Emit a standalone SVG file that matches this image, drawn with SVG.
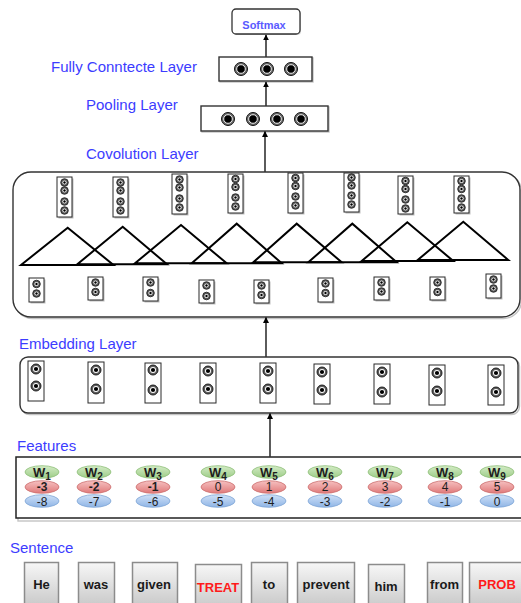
<svg xmlns="http://www.w3.org/2000/svg" xmlns:xlink="http://www.w3.org/1999/xlink" width="521" height="603" viewBox="0 0 521 603">
  <style>
    .lbl { font-family: "Liberation Sans", Arial, sans-serif; font-size: 15px; fill: #3c3cff; }
    .box { fill: #ffffff; stroke: #333333; stroke-width: 1.4; }
    .shadow { fill: none; stroke: #c4c4c4; stroke-width: 1.4; }
    .col { fill: #ffffff; stroke: #2a2a2a; stroke-width: 1; }
    .colsh { fill: #bdbdbd; }
    .tri { fill: none; stroke: #000000; stroke-width: 2; stroke-linejoin: miter; }
    .conn { stroke: #333333; stroke-width: 1.6; fill: none; marker-end: url(#arrow); }
    .word { stroke: #8c8c8c; stroke-width: 1.5; fill: url(#wordGrad); }
    .wtxt { font-family: "Liberation Sans", Arial, sans-serif; font-size: 13px; font-weight: bold; fill: #1a1a1a; text-anchor: middle; }
    .wred { fill: #ff1a1a; }
    .ftxt { font-family: "Liberation Sans", Arial, sans-serif; font-size: 12px; fill: #1e1e1e; text-anchor: middle; }
    .fw { font-weight: bold; font-size: 13px; }
    .sub { font-size: 10px; }
    .green { fill: url(#gGrad); stroke: #8fbf7a; stroke-width: 0.8; }
    .red { fill: url(#rGrad); stroke: #cc6f6f; stroke-width: 0.8; }
    .blue { fill: url(#bGrad); stroke: #7fa6d6; stroke-width: 0.8; }
  </style>
  <defs>
    <marker id="arrow" viewBox="0 0 10 10" refX="9" refY="5" markerWidth="6" markerHeight="6" markerUnits="userSpaceOnUse" orient="auto">
      <path d="M0,0 L10,5 L0,10 Z" fill="#000000"/>
    </marker>
    <linearGradient id="wordGrad" x1="0" y1="0" x2="0" y2="1">
      <stop offset="0" stop-color="#f7f7f7"/>
      <stop offset="1" stop-color="#c2c2c2"/>
    </linearGradient>
    <linearGradient id="gGrad" x1="0" y1="0" x2="0" y2="1">
      <stop offset="0" stop-color="#d4ecc6"/>
      <stop offset="1" stop-color="#9ccc86"/>
    </linearGradient>
    <linearGradient id="rGrad" x1="0" y1="0" x2="0" y2="1">
      <stop offset="0" stop-color="#f6c1c1"/>
      <stop offset="1" stop-color="#e07a7a"/>
    </linearGradient>
    <linearGradient id="bGrad" x1="0" y1="0" x2="0" y2="1">
      <stop offset="0" stop-color="#cfe1f7"/>
      <stop offset="1" stop-color="#8fb5e6"/>
    </linearGradient>
    <!-- neuron symbols in three sizes -->
    <g id="dotBig">
      <circle r="6.5" fill="#6e6e6e" stroke="#111" stroke-width="1"/>
      <circle r="4.3" fill="#000" stroke="#ffffff" stroke-width="0.9"/>
    </g>
    <g id="dotMd">
      <circle r="5" fill="#5e5e5e" stroke="#111" stroke-width="0.9"/>
      <circle r="3" fill="#ffffff"/>
      <circle r="2.1" fill="#000"/>
    </g>
    <g id="dotSm">
      <circle r="3.8" fill="#555555" stroke="#1a1a1a" stroke-width="0.8"/>
      <circle r="2.1" fill="#ffffff"/>
      <circle r="1.2" fill="#000"/>
    </g>
  </defs>

  <rect width="521" height="603" fill="#ffffff"/>

  <!-- layer captions -->
  <g id="labels">
    <text class="lbl" x="51" y="72">Fully Conntecte Layer</text>
    <text class="lbl" x="86" y="110">Pooling Layer</text>
    <text class="lbl" x="86" y="159">Covolution Layer</text>
    <text class="lbl" x="19" y="349">Embedding Layer</text>
    <text class="lbl" x="17" y="451">Features</text>
    <text class="lbl" x="10" y="553">Sentence</text>
  </g>

  <!-- output -->
  <g id="softmax">
    <rect x="233" y="10" width="68" height="25" rx="4" fill="#d0d0d0"/>
    <rect x="232" y="9" width="68" height="25" rx="4" fill="#ffffff" stroke="#333" stroke-width="1.3"/>
    <text x="264" y="29" font-family="Liberation Sans, Arial, sans-serif" font-size="11" font-weight="bold" fill="#5a5aff" text-anchor="middle">Softmax</text>
  </g>

  <g id="fully-connected">
    <rect x="220" y="58" width="93" height="24" fill="none" stroke="#c4c4c4" stroke-width="1.4"/>
    <rect x="219" y="57" width="93" height="24" class="box"/>
    <use xlink:href="#dotBig" x="241" y="69"/>
    <use xlink:href="#dotBig" x="267" y="69"/>
    <use xlink:href="#dotBig" x="291" y="69"/>
  </g>

  <g id="pooling">
    <rect x="202" y="107" width="127" height="25" fill="none" stroke="#c4c4c4" stroke-width="1.4"/>
    <rect x="201" y="106" width="127" height="25" class="box"/>
    <use xlink:href="#dotBig" x="228" y="119"/>
    <use xlink:href="#dotBig" x="253" y="119"/>
    <use xlink:href="#dotBig" x="277" y="119"/>
    <use xlink:href="#dotBig" x="301" y="119"/>
  </g>

  <!-- convolution block: feature maps, filter windows, inputs -->
  <g id="convolution">
    <rect x="14.5" y="173.5" width="507" height="145" rx="18" class="shadow"/>
    <rect x="13" y="172" width="507" height="145" rx="18" class="box"/>

    <g id="conv-maps">
      <rect class="colsh" x="58.5" y="178.5" width="15" height="40"/>
      <rect class="col" x="57" y="177" width="15" height="40"/>
      <use xlink:href="#dotSm" x="64.5" y="182.5"/><use xlink:href="#dotSm" x="64.5" y="190.5"/><use xlink:href="#dotSm" x="64.5" y="201.5"/><use xlink:href="#dotSm" x="64.5" y="210.5"/>

      <rect class="colsh" x="114.5" y="178.5" width="15" height="40"/>
      <rect class="col" x="113" y="177" width="15" height="40"/>
      <use xlink:href="#dotSm" x="120.5" y="182.5"/><use xlink:href="#dotSm" x="120.5" y="190.5"/><use xlink:href="#dotSm" x="120.5" y="201.5"/><use xlink:href="#dotSm" x="120.5" y="210.5"/>

      <rect class="colsh" x="173.5" y="175.5" width="15" height="40"/>
      <rect class="col" x="172" y="174" width="15" height="40"/>
      <use xlink:href="#dotSm" x="179.5" y="179.5"/><use xlink:href="#dotSm" x="179.5" y="187.5"/><use xlink:href="#dotSm" x="179.5" y="198.5"/><use xlink:href="#dotSm" x="179.5" y="207.5"/>

      <rect class="colsh" x="229.5" y="175.5" width="15" height="39"/>
      <rect class="col" x="228" y="174" width="15" height="39"/>
      <use xlink:href="#dotSm" x="235.5" y="179"/><use xlink:href="#dotSm" x="235.5" y="187"/><use xlink:href="#dotSm" x="235.5" y="197.5"/><use xlink:href="#dotSm" x="235.5" y="206.5"/>

      <rect class="colsh" x="289.5" y="174.5" width="15" height="40"/>
      <rect class="col" x="288" y="173" width="15" height="40"/>
      <use xlink:href="#dotSm" x="295.5" y="178"/><use xlink:href="#dotSm" x="295.5" y="186"/><use xlink:href="#dotSm" x="295.5" y="196.5"/><use xlink:href="#dotSm" x="295.5" y="205.5"/>

      <rect class="colsh" x="345.5" y="174.5" width="15" height="39"/>
      <rect class="col" x="344" y="173" width="15" height="39"/>
      <use xlink:href="#dotSm" x="351.5" y="177.5"/><use xlink:href="#dotSm" x="351.5" y="185.5"/><use xlink:href="#dotSm" x="351.5" y="195.5"/><use xlink:href="#dotSm" x="351.5" y="204.5"/>

      <rect class="colsh" x="399.5" y="177.5" width="15" height="38"/>
      <rect class="col" x="398" y="176" width="15" height="38"/>
      <use xlink:href="#dotSm" x="405.5" y="181"/><use xlink:href="#dotSm" x="405.5" y="189"/><use xlink:href="#dotSm" x="405.5" y="199.5"/><use xlink:href="#dotSm" x="405.5" y="208.5"/>

      <rect class="colsh" x="455.5" y="177.5" width="15" height="37"/>
      <rect class="col" x="454" y="176" width="15" height="37"/>
      <use xlink:href="#dotSm" x="461.5" y="181"/><use xlink:href="#dotSm" x="461.5" y="189"/><use xlink:href="#dotSm" x="461.5" y="198.5"/><use xlink:href="#dotSm" x="461.5" y="207.5"/>
    </g>

    <g id="conv-filters">
      <path class="tri" d="M21,265 L67.7,227.7 L113.5,265 Z"/>
      <path class="tri" d="M77.3,264.3 L122.7,226.7 L167,264.3 Z"/>
      <path class="tri" d="M135,263.3 L181,225 L226.7,263.3 Z"/>
      <path class="tri" d="M191.7,263.3 L236.7,223.7 L281.7,263.3 Z"/>
      <path class="tri" d="M253.3,262.3 L296.7,223.7 L341.7,262.3 Z"/>
      <path class="tri" d="M308.3,262.3 L352.3,223.7 L396.7,262.3 Z"/>
      <path class="tri" d="M361.7,261 L407.3,222.3 L453.3,261 Z"/>
      <path class="tri" d="M417.7,260 L463.3,221.7 L508.3,260 Z"/>
    </g>

    <g id="conv-inputs">
      <rect class="colsh" x="30.5" y="279.5" width="15" height="24"/>
      <rect class="col" x="29" y="278" width="15" height="24"/>
      <use xlink:href="#dotSm" x="36.5" y="284"/><use xlink:href="#dotSm" x="36.5" y="293.5"/>

      <rect class="colsh" x="89.5" y="278.5" width="15" height="23"/>
      <rect class="col" x="88" y="277" width="15" height="23"/>
      <use xlink:href="#dotSm" x="95.5" y="282.5"/><use xlink:href="#dotSm" x="95.5" y="292"/>

      <rect class="colsh" x="144.5" y="278.5" width="15" height="24"/>
      <rect class="col" x="143" y="277" width="15" height="24"/>
      <use xlink:href="#dotSm" x="150.5" y="282.5"/><use xlink:href="#dotSm" x="150.5" y="293"/>

      <rect class="colsh" x="200.5" y="281.5" width="15" height="23"/>
      <rect class="col" x="199" y="280" width="15" height="23"/>
      <use xlink:href="#dotSm" x="206.5" y="285.5"/><use xlink:href="#dotSm" x="206.5" y="296"/>

      <rect class="colsh" x="255.5" y="281.5" width="15" height="23"/>
      <rect class="col" x="254" y="280" width="15" height="23"/>
      <use xlink:href="#dotSm" x="261.5" y="285.5"/><use xlink:href="#dotSm" x="261.5" y="295"/>

      <rect class="colsh" x="319.5" y="279.5" width="15" height="24"/>
      <rect class="col" x="318" y="278" width="15" height="24"/>
      <use xlink:href="#dotSm" x="325.5" y="283.5"/><use xlink:href="#dotSm" x="325.5" y="293"/>

      <rect class="colsh" x="375.5" y="278.5" width="15" height="23"/>
      <rect class="col" x="374" y="277" width="15" height="23"/>
      <use xlink:href="#dotSm" x="381.5" y="282.5"/><use xlink:href="#dotSm" x="381.5" y="291.5"/>

      <rect class="colsh" x="431.5" y="278.5" width="15" height="23"/>
      <rect class="col" x="430" y="277" width="15" height="23"/>
      <use xlink:href="#dotSm" x="437.5" y="282.5"/><use xlink:href="#dotSm" x="437.5" y="292"/>

      <rect class="colsh" x="487.5" y="275.5" width="15" height="24"/>
      <rect class="col" x="486" y="274" width="15" height="24"/>
      <use xlink:href="#dotSm" x="493.5" y="279.5"/><use xlink:href="#dotSm" x="493.5" y="288.5"/>
    </g>
  </g>

  <!-- embedding layer -->
  <g id="embedding">
    <rect x="21.5" y="358.5" width="498" height="56" rx="8" class="shadow"/>
    <rect x="20" y="357" width="498" height="56" rx="8" class="box"/>
    <rect class="col" x="28" y="361" width="16" height="40"/><use xlink:href="#dotMd" x="36" y="369"/><use xlink:href="#dotMd" x="36" y="386"/>
    <rect class="col" x="88" y="362" width="16" height="41"/><use xlink:href="#dotMd" x="96" y="370"/><use xlink:href="#dotMd" x="96" y="389"/>
    <rect class="col" x="145" y="363" width="16" height="40"/><use xlink:href="#dotMd" x="153" y="370"/><use xlink:href="#dotMd" x="153" y="390"/>
    <rect class="col" x="200" y="363" width="16" height="40"/><use xlink:href="#dotMd" x="208" y="371"/><use xlink:href="#dotMd" x="208" y="389"/>
    <rect class="col" x="260" y="363" width="16" height="40"/><use xlink:href="#dotMd" x="268" y="371"/><use xlink:href="#dotMd" x="268" y="389"/>
    <rect class="col" x="314" y="364" width="16" height="40"/><use xlink:href="#dotMd" x="322" y="372"/><use xlink:href="#dotMd" x="322" y="390"/>
    <rect class="col" x="374" y="364" width="16" height="40"/><use xlink:href="#dotMd" x="382" y="372"/><use xlink:href="#dotMd" x="382" y="392"/>
    <rect class="col" x="429" y="365" width="16" height="40"/><use xlink:href="#dotMd" x="437" y="373"/><use xlink:href="#dotMd" x="437" y="391"/>
    <rect class="col" x="488" y="365" width="16" height="40"/><use xlink:href="#dotMd" x="496" y="373"/><use xlink:href="#dotMd" x="496" y="392"/>
  </g>

  <!-- per-word features: word id, position relative to TREAT, to PROB -->
  <g id="features">
    <rect x="18" y="459" width="520" height="62" fill="none" stroke="#c4c4c4" stroke-width="1.4"/>
    <rect x="16" y="457" width="520" height="61" fill="#ffffff" stroke="#222" stroke-width="1.5"/>

    <g id="f1">
      <ellipse class="green" cx="42" cy="472" rx="17" ry="6.3"/><ellipse class="red" cx="42" cy="487" rx="17" ry="6.3"/><ellipse class="blue" cx="42" cy="501" rx="17" ry="6.3"/>
      <text class="ftxt fw" x="42" y="477">W<tspan class="sub" dy="2.5">1</tspan></text>
      <text class="ftxt" x="42" y="491" font-weight="bold">-3</text><text class="ftxt" x="42" y="505.5">-8</text>
    </g>
    <g id="f2">
      <ellipse class="green" cx="94" cy="472" rx="17" ry="6.3"/><ellipse class="red" cx="94" cy="487" rx="17" ry="6.3"/><ellipse class="blue" cx="94" cy="501" rx="17" ry="6.3"/>
      <text class="ftxt fw" x="94" y="477">W<tspan class="sub" dy="2.5">2</tspan></text>
      <text class="ftxt" x="94" y="491" font-weight="bold">-2</text><text class="ftxt" x="94" y="505.5">-7</text>
    </g>
    <g id="f3">
      <ellipse class="green" cx="153" cy="472" rx="17" ry="6.3"/><ellipse class="red" cx="153" cy="487" rx="17" ry="6.3"/><ellipse class="blue" cx="153" cy="501" rx="17" ry="6.3"/>
      <text class="ftxt fw" x="153" y="477">W<tspan class="sub" dy="2.5">3</tspan></text>
      <text class="ftxt" x="153" y="491" font-weight="bold">-1</text><text class="ftxt" x="153" y="505.5">-6</text>
    </g>
    <g id="f4">
      <ellipse class="green" cx="218" cy="472" rx="17" ry="6.3"/><ellipse class="red" cx="218" cy="487" rx="17" ry="6.3"/><ellipse class="blue" cx="218" cy="501" rx="17" ry="6.3"/>
      <text class="ftxt fw" x="218" y="477">W<tspan class="sub" dy="2.5">4</tspan></text>
      <text class="ftxt" x="218" y="491">0</text><text class="ftxt" x="218" y="505.5">-5</text>
    </g>
    <g id="f5">
      <ellipse class="green" cx="269" cy="472" rx="17" ry="6.3"/><ellipse class="red" cx="269" cy="487" rx="17" ry="6.3"/><ellipse class="blue" cx="269" cy="501" rx="17" ry="6.3"/>
      <text class="ftxt fw" x="269" y="477">W<tspan class="sub" dy="2.5">5</tspan></text>
      <text class="ftxt" x="269" y="491">1</text><text class="ftxt" x="269" y="505.5">-4</text>
    </g>
    <g id="f6">
      <ellipse class="green" cx="325" cy="472" rx="17" ry="6.3"/><ellipse class="red" cx="325" cy="487" rx="17" ry="6.3"/><ellipse class="blue" cx="325" cy="501" rx="17" ry="6.3"/>
      <text class="ftxt fw" x="325" y="477">W<tspan class="sub" dy="2.5">6</tspan></text>
      <text class="ftxt" x="325" y="491">2</text><text class="ftxt" x="325" y="505.5">-3</text>
    </g>
    <g id="f7">
      <ellipse class="green" cx="385" cy="472" rx="17" ry="6.3"/><ellipse class="red" cx="385" cy="487" rx="17" ry="6.3"/><ellipse class="blue" cx="385" cy="501" rx="17" ry="6.3"/>
      <text class="ftxt fw" x="385" y="477">W<tspan class="sub" dy="2.5">7</tspan></text>
      <text class="ftxt" x="385" y="491">3</text><text class="ftxt" x="385" y="505.5">-2</text>
    </g>
    <g id="f8">
      <ellipse class="green" cx="445" cy="472" rx="17" ry="6.3"/><ellipse class="red" cx="445" cy="487" rx="17" ry="6.3"/><ellipse class="blue" cx="445" cy="501" rx="17" ry="6.3"/>
      <text class="ftxt fw" x="445" y="477">W<tspan class="sub" dy="2.5">8</tspan></text>
      <text class="ftxt" x="445" y="491">4</text><text class="ftxt" x="445" y="505.5">-1</text>
    </g>
    <g id="f9">
      <ellipse class="green" cx="497" cy="472" rx="17" ry="6.3"/><ellipse class="red" cx="497" cy="487" rx="17" ry="6.3"/><ellipse class="blue" cx="497" cy="501" rx="17" ry="6.3"/>
      <text class="ftxt fw" x="497" y="477">W<tspan class="sub" dy="2.5">9</tspan></text>
      <text class="ftxt" x="497" y="491">5</text><text class="ftxt" x="497" y="505.5">0</text>
    </g>
  </g>

  <!-- input sentence tokens -->
  <g id="sentence">
    <g id="tok-he"><rect class="word" x="24.5" y="562.5" width="34" height="50"/><text class="wtxt" x="41.5" y="589">He</text></g>
    <g id="tok-was"><rect class="word" x="78.5" y="562.5" width="36" height="50"/><text class="wtxt" x="96" y="589">was</text></g>
    <g id="tok-given"><rect class="word" x="132.5" y="562.5" width="45" height="50"/><text class="wtxt" x="154" y="589">given</text></g>
    <g id="tok-treat"><rect class="word" x="195.5" y="564.5" width="46" height="50"/><text class="wtxt wred" x="218" y="591.5">TREAT</text></g>
    <g id="tok-to"><rect class="word" x="251.5" y="562.5" width="36" height="50"/><text class="wtxt" x="269" y="589">to</text></g>
    <g id="tok-prevent"><rect class="word" x="297.5" y="562.5" width="57" height="50"/><text class="wtxt" x="326" y="589">prevent</text></g>
    <g id="tok-him"><rect class="word" x="368.5" y="564.5" width="36" height="50"/><text class="wtxt" x="386" y="591">him</text></g>
    <g id="tok-from"><rect class="word" x="427.5" y="562.5" width="35" height="50"/><text class="wtxt" x="444.5" y="589">from</text></g>
    <g id="tok-prob"><rect class="word" x="469.5" y="562.5" width="57" height="50"/><text class="wtxt wred" x="497" y="589">PROB</text></g>
  </g>

  <!-- connectors between layers -->
  <g id="connectors">
    <line class="conn" x1="266" y1="57" x2="266" y2="35"/>
    <line class="conn" x1="266" y1="106" x2="266" y2="82"/>
    <line class="conn" x1="265" y1="172" x2="265" y2="131.5"/>
    <line class="conn" x1="266" y1="357" x2="266" y2="317.5"/>
    <line class="conn" x1="270" y1="457" x2="270" y2="413.5"/>
  </g>
</svg>
